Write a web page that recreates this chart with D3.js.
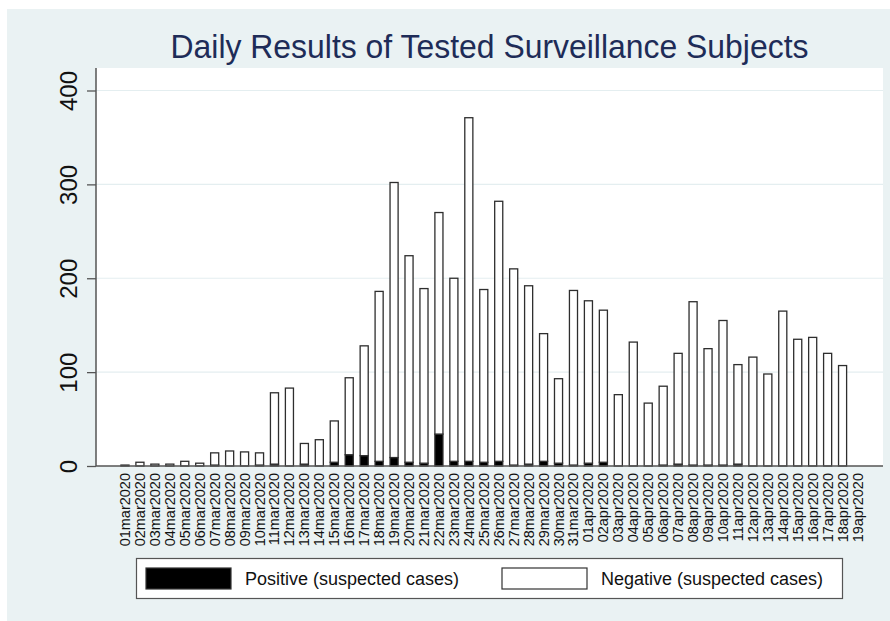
<!DOCTYPE html>
<html><head><meta charset="utf-8">
<script src="https://cdn.jsdelivr.net/npm/d3@7/dist/d3.min.js"></script>
<style>html,body{margin:0;padding:0;background:#fff;}svg{display:block;font-family:Arial,"Liberation Sans",sans-serif;}</style>
</head><body>
<script>
const dates = ["01mar2020","02mar2020","03mar2020","04mar2020","05mar2020","06mar2020","07mar2020","08mar2020","09mar2020","10mar2020",
"11mar2020","12mar2020","13mar2020","14mar2020","15mar2020","16mar2020","17mar2020","18mar2020","19mar2020","20mar2020",
"21mar2020","22mar2020","23mar2020","24mar2020","25mar2020","26mar2020","27mar2020","28mar2020","29mar2020","30mar2020",
"31mar2020","01apr2020","02apr2020","03apr2020","04apr2020","05apr2020","06apr2020","07apr2020","08apr2020","09apr2020",
"10apr2020","11apr2020","12apr2020","13apr2020","14apr2020","15apr2020","16apr2020","17apr2020","18apr2020","19apr2020"];
const positive = [1,0,0,0,0,0,1,0,0,1,
  2,0,2,0,4,12,11,5,9,4,
  3,34,5,5,4,5,1,2,5,3,
  1,3,4,0,0,0,1,2,1,1,
  1,2,0,0,0,0,0,0,0,0];
const negative = [0,4,2,2,5,3,13,16,15,13,
  76,83,22,28,44,82,117,181,293,220,
  186,236,195,366,184,277,209,190,136,90,
  186,173,162,76,132,67,84,118,174,124,
  154,106,116,98,165,135,137,120,107,0];
const yTicks = [0,100,200,300,400];
const titleText = "Daily Results of Tested Surveillance Subjects";
const legendLabels = ["Positive (suspected cases)","Negative (suspected cases)"];

const W = 890, H = 621;
const svg = d3.select("body").append("svg").attr("width",W).attr("height",H);

// backgrounds
svg.append("rect").attr("x",0).attr("y",0).attr("width",W).attr("height",H).attr("fill","#ffffff");
svg.append("rect").attr("x",7).attr("y",9).attr("width",W-7).attr("height",H-9).attr("fill","#eaf2f3");
const plot = {l:96, r:883, t:68, b:466};
svg.append("rect").attr("x",plot.l).attr("y",plot.t).attr("width",plot.r-plot.l).attr("height",plot.b-plot.t).attr("fill","#ffffff");

const x = d3.scaleBand().domain(dates).range([117.5, 865]).paddingInner(0.46).paddingOuter(0.23);
const y = d3.scaleLinear().domain([0,400]).range([plot.b, 90.5]);

// gridlines
svg.append("g").selectAll("line").data(yTicks.filter(d=>d>0)).join("line")
  .attr("x1",plot.l).attr("x2",plot.r).attr("y1",d=>y(d)).attr("y2",d=>y(d))
  .attr("stroke","#e4eef0").attr("stroke-width",1.2);

// bars
const data = dates.map((d,i)=>({date:d,pos:positive[i],neg:negative[i]}));
const stack = d3.stack().keys(["pos","neg"])(data);
const fills = {pos:"#000000", neg:"#ffffff"};
stack.forEach(layer=>{
  svg.append("g").selectAll("rect").data(layer.filter(d=>d[1]-d[0]>0)).join("rect")
    .attr("x",d=>x(d.data.date)).attr("width",x.bandwidth())
    .attr("y",d=>y(d[1])).attr("height",d=>y(d[0])-y(d[1]))
    .attr("fill",fills[layer.key]).attr("stroke","#2e2e2e").attr("stroke-width",1.3);
});

// y axis
const yAxis = d3.axisLeft(y).tickValues(yTicks).tickSize(9).tickFormat(d3.format("d"));
const yg = svg.append("g").attr("transform",`translate(${plot.l},0)`).call(yAxis);
yg.select(".domain").attr("d",`M0,${plot.t}V${plot.b}`).attr("stroke","#555").attr("stroke-width",1.5);
yg.selectAll(".tick line").attr("stroke","#555").attr("stroke-width",1.3);
yg.selectAll(".tick text").attr("x",null).attr("dy",null).attr("fill","#111")
  .attr("font-size",24).attr("text-anchor","middle")
  .attr("transform","translate(-19,0) rotate(-90)");

// x axis
const xAxis = d3.axisBottom(x).tickSize(0);
const xg = svg.append("g").attr("transform",`translate(0,${plot.b})`).call(xAxis);
xg.select(".domain").attr("d",`M${plot.l},0H${plot.r}`).attr("stroke","#555").attr("stroke-width",1.5);
xg.selectAll(".tick text").attr("y",null).attr("dy",null).attr("fill","#111")
  .attr("font-size",14.5).attr("text-anchor","end")
  .attr("transform","translate(5,7) rotate(-90)");

// title
svg.append("text").attr("x",(plot.l+plot.r)/2).attr("y",58).attr("text-anchor","middle")
  .attr("font-size",33).attr("fill","#1e2c58")
  .attr("textLength",638).attr("lengthAdjust","spacingAndGlyphs").text(titleText);

// legend
const lg = svg.append("g");
lg.append("rect").attr("x",136.5).attr("y",558.5).attr("width",706).attr("height",40)
  .attr("fill","#fff").attr("stroke","#555").attr("stroke-width",1.2);
const items = [{key:"pos",x:146,label:legendLabels[0]},{key:"neg",x:502,label:legendLabels[1]}];
items.forEach(it=>{
  lg.append("rect").attr("x",it.x).attr("y",568).attr("width",85).attr("height",21)
    .attr("fill",fills[it.key]).attr("stroke","#333").attr("stroke-width",1.2);
  lg.append("text").attr("x",it.x+99).attr("y",584.5).attr("font-size",18).attr("fill","#111").text(it.label);
});
</script>
</body></html>
